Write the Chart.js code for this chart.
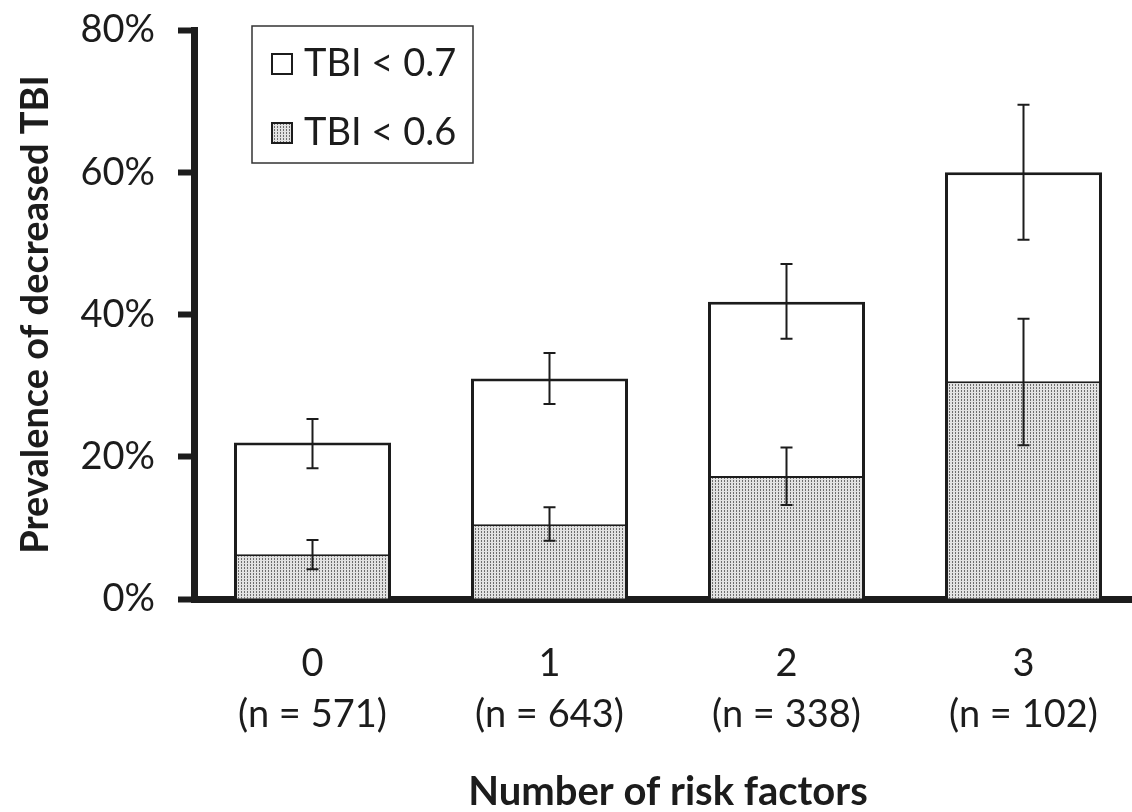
<!DOCTYPE html>
<html>
<head>
<meta charset="utf-8">
<script src="https://cdn.jsdelivr.net/npm/chart.js@4.4.1/dist/chart.umd.min.js"></script>
<style>
  html, body { margin: 0; padding: 0; background: #fff; overflow: hidden; }
  #wrap { width: 1142px; height: 812px; }
</style>
</head>
<body>
<div id="wrap"><canvas id="tbiChart"></canvas></div>
<script>
// --- Datos ---
const riskFactors = ['0', '1', '2', '3'];
const sampleSizes = ['(n = 571)', '(n = 643)', '(n = 338)', '(n = 102)'];

const tbi07 = [22.0, 31.0, 41.8, 60.0];
const tbi07Low = [18.4, 27.4, 36.6, 50.5];
const tbi07High = [25.3, 34.6, 47.1, 69.5];

const tbi06 = [6.3, 10.5, 17.3, 30.6];
const tbi06Low = [4.2, 8.2, 13.2, 21.6];
const tbi06High = [8.3, 12.9, 21.3, 39.4];

const yTicks = [0, 20, 40, 60, 80];

// patrón punteado gris
function makeDots() {
    const c = document.createElement('canvas');
    c.width = 3; c.height = 3;
    const g = c.getContext('2d');
    g.fillStyle = '#e2e2e2';
    g.fillRect(0, 0, 3, 3);
    g.fillStyle = '#6e6e6e';
    g.fillRect(1, 0, 1, 2);
    return g.createPattern(c, 'repeat');
}
const dots = makeDots();
const ink = '#1c1c1c';

const errorBars = {
    id: 'errorBars',
    afterDatasetsDraw(chart) {
        const ctx = chart.ctx;
        const y = chart.scales.y;
        chart.data.datasets.forEach((ds, d) => {
            const meta = chart.getDatasetMeta(d);
            meta.data.forEach((bar, i) => {
                const top = y.getPixelForValue(ds.errHigh[i]);
                const bot = y.getPixelForValue(ds.errLow[i]);
                ctx.save();
                ctx.strokeStyle = ink;
                ctx.lineWidth = 2;
                ctx.beginPath();
                ctx.moveTo(bar.x, top); ctx.lineTo(bar.x, bot);
                ctx.moveTo(bar.x - 6, top); ctx.lineTo(bar.x + 6, top);
                ctx.moveTo(bar.x - 6, bot); ctx.lineTo(bar.x + 6, bot);
                ctx.stroke();
                ctx.restore();
            });
        });
    }
};

const boxLegend = {
    id: 'boxLegend',
    afterDraw(chart) {
        const ctx = chart.ctx;
        const a = chart.chartArea;
        const x = a.left + 58, top = a.top - 4;
        ctx.save();
        ctx.strokeStyle = '#333';
        ctx.lineWidth = 1.5;
        ctx.strokeRect(x, top, 221, 137);
        const rows = [chart.data.datasets[0], chart.data.datasets[1]];
        rows.forEach((ds, k) => {
            const cy = top + 38 + k * 69;
            ctx.fillStyle = ds.backgroundColor;
            ctx.fillRect(x + 20, cy - 10, 20, 20);
            ctx.strokeStyle = ink;
            ctx.lineWidth = 2;
            ctx.strokeRect(x + 20, cy - 10, 20, 20);
            ctx.fillStyle = ink;
            ctx.font = '38px Lato';
            ctx.textBaseline = 'middle';
            ctx.fillText(ds.label, x + 52, cy);
        });
        ctx.restore();
    }
};

new Chart(document.getElementById('tbiChart'), {
    type: 'bar',
    data: {
        labels: riskFactors.map((r, i) => [r, sampleSizes[i]]),
        datasets: [{
            label: 'TBI < 0.7',
            data: tbi07,
            errLow: tbi07Low,
            errHigh: tbi07High,
            backgroundColor: '#ffffff',
            borderColor: ink,
            borderWidth: 3,
            grouped: false,
            order: 2
        }, {
            label: 'TBI < 0.6',
            data: tbi06,
            errLow: tbi06Low,
            errHigh: tbi06High,
            backgroundColor: dots,
            borderColor: ink,
            borderWidth: { top: 2, left: 3, right: 3, bottom: 0 },
            grouped: false,
            order: 1
        }]
    },
    options: {
        responsive: true,
        maintainAspectRatio: false,
        animation: false,
        barPercentage: 0.6625,
        categoryPercentage: 1,
        layout: { padding: { top: 30, left: 0, right: 0, bottom: 0 } },
        plugins: {
            legend: { display: false },
            tooltip: { enabled: false }
        },
        scales: {
            x: {
                grid: { display: false },
                border: { display: true, color: ink, width: 7 },
                ticks: {
                    color: ink,
                    font: { family: 'Lato', size: 38, lineHeight: 1.35 },
                    padding: 31,
                    maxRotation: 0
                },
                title: {
                    display: true,
                    text: 'Number of risk factors',
                    color: ink,
                    font: { family: 'Lato', size: 40, weight: 'bold', lineHeight: 1.0 },
                    padding: { top: 0, bottom: 0 }
                },
                afterFit(scale) { scale.height = 213; }
            },
            y: {
                min: 0,
                max: 80,
                afterBuildTicks(scale) { scale.ticks = yTicks.map(v => ({ value: v })); },
                grid: {
                    drawOnChartArea: false,
                    drawTicks: true,
                    tickLength: 16,
                    tickWidth: 6,
                    tickColor: ink
                },
                border: { display: true, color: ink, width: 7 },
                ticks: {
                    color: ink,
                    font: { family: 'Lato', size: 38 },
                    padding: 23,
                    callback: v => v + '%'
                },
                title: {
                    display: true,
                    text: 'Prevalence of decreased TBI',
                    color: ink,
                    font: { family: 'Lato', size: 38, weight: 'bold', lineHeight: 1.2 },
                    padding: { top: 13, bottom: 0 }
                },
                afterFit(scale) {
                    scale.width = 194;
                    scale.paddingTop = 0;
                    scale.paddingBottom = 0;
                }
            }
        }
    },
    plugins: [errorBars, boxLegend]
});
</script>
</body>
</html>
